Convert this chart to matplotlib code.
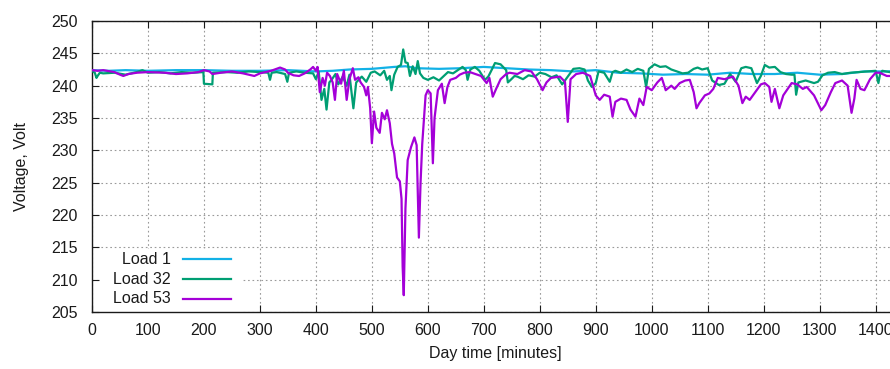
import numpy as np
import matplotlib
matplotlib.use("Agg")
import matplotlib.pyplot as plt
from matplotlib.patches import Rectangle

plt.rcParams['font.family'] = ['Liberation Sans', 'DejaVu Sans']

# voltage per load, (minute, volt)
load1 = [(0, 242.4), (30, 242.3), (60, 242.4), (100, 242.3), (150, 242.4), (200, 242.4),
         (250, 242.3), (300, 242.3), (350, 242.4), (400, 242.2), (430, 242.3), (460, 242.5),
         (500, 242.6), (540, 242.9), (560, 243.0), (580, 242.7), (620, 242.6), (660, 242.7),
         (700, 242.9), (740, 242.7), (780, 242.5), (820, 242.4), (860, 242.2), (900, 242.4),
         (940, 242.0), (980, 241.9), (1020, 241.7), (1060, 241.8), (1100, 241.7), (1140, 242.0),
         (1180, 241.8), (1220, 241.8), (1260, 242.0), (1300, 241.7), (1340, 241.8), (1380, 242.2),
         (1420, 242.2), (1440, 242.3)]

load32 = [(0, 242.3), (5, 242.0), (8, 241.2), (10, 241.5), (14, 242.0), (20, 241.9), (40, 242.0),
          (60, 241.7), (80, 242.1), (90, 242.4), (100, 242.0), (120, 242.1), (140, 241.9),
          (160, 242.1), (180, 242.0), (199, 242.1), (200, 240.3), (215, 240.2), (216, 242.0),
          (240, 242.1), (260, 242.0), (280, 242.2), (300, 242.1), (315, 242.0), (318, 240.9),
          (321, 242.0), (330, 242.1), (345, 241.8), (349, 240.6), (352, 242.0), (365, 242.2),
          (380, 242.0), (395, 241.9), (400, 241.0), (405, 242.2), (410, 237.8), (415, 239.5),
          (419, 236.3), (424, 240.5), (428, 240.9), (435, 241.8), (440, 240.2), (448, 241.4),
          (455, 240.0), (460, 241.7), (467, 236.5), (472, 240.5), (482, 241.4), (490, 240.6),
          (498, 242.0), (505, 242.2), (515, 241.6), (522, 242.3), (527, 240.9), (532, 241.5),
          (535, 239.3), (540, 241.7), (546, 242.9), (552, 243.2), (556, 245.6), (560, 243.6),
          (564, 243.5), (568, 241.5), (573, 243.0), (578, 241.8), (582, 243.8), (586, 241.9),
          (592, 241.2), (600, 240.9), (610, 241.3), (620, 240.8), (630, 241.6), (636, 242.1),
          (645, 241.9), (655, 242.5), (662, 242.9), (668, 242.4), (671, 240.9), (676, 242.5),
          (684, 242.9), (692, 242.3), (702, 240.9), (708, 241.4), (715, 242.6), (720, 243.5),
          (730, 243.3), (740, 242.4), (743, 240.5), (748, 240.9), (755, 241.5), (760, 241.4),
          (770, 241.0), (780, 241.6), (791, 241.4), (800, 242.0), (810, 241.8), (821, 241.3),
          (830, 241.6), (840, 240.2), (850, 241.4), (860, 242.6), (871, 242.7), (880, 242.5),
          (886, 240.8), (893, 239.8), (900, 240.4), (905, 242.2), (915, 242.0), (925, 240.6),
          (930, 242.1), (935, 242.3), (945, 242.0), (955, 242.5), (965, 242.1), (975, 242.6),
          (985, 242.3), (990, 239.8), (995, 242.6), (1005, 243.3), (1015, 242.9), (1025, 243.0),
          (1035, 242.5), (1045, 242.2), (1055, 241.9), (1065, 242.0), (1075, 242.6), (1082, 242.8),
          (1090, 242.5), (1100, 242.7), (1108, 240.8), (1120, 240.1), (1130, 240.3), (1140, 241.8),
          (1150, 240.6), (1160, 242.7), (1168, 242.9), (1178, 242.7), (1188, 240.4), (1195, 241.5),
          (1202, 243.2), (1210, 242.8), (1220, 242.9), (1230, 242.1), (1240, 241.8), (1250, 241.7),
          (1255, 241.7), (1258, 238.6), (1262, 240.5), (1275, 240.8), (1290, 240.4), (1297, 240.6),
          (1305, 241.6), (1315, 242.0), (1327, 242.1), (1340, 241.8), (1355, 242.0), (1370, 242.1),
          (1385, 242.2), (1400, 242.3), (1405, 240.4), (1408, 241.8), (1412, 242.3), (1425, 242.1),
          (1440, 242.0)]

load53 = [(0, 242.4), (10, 242.3), (20, 242.4), (40, 242.1), (50, 241.7), (56, 241.5), (65, 241.8),
          (80, 242.0), (100, 242.1), (130, 242.0), (150, 241.8), (170, 241.9), (190, 242.1),
          (200, 242.4), (210, 242.2), (215, 241.8), (230, 242.0), (250, 242.2), (270, 241.9),
          (290, 241.5), (300, 241.9), (320, 242.3), (336, 242.8), (345, 242.5), (350, 242.0),
          (360, 241.6), (370, 241.5), (380, 241.9), (390, 242.5), (395, 242.9), (400, 242.3),
          (403, 242.9), (407, 239.0), (412, 241.2), (416, 240.0), (420, 242.0), (425, 241.5),
          (430, 240.5), (434, 237.8), (438, 241.8), (445, 240.3), (450, 242.3), (455, 237.8),
          (460, 241.0), (466, 242.7), (470, 240.9), (476, 241.3), (480, 240.5), (486, 239.8),
          (490, 238.5), (493, 239.8), (497, 236.5), (500, 231.1), (504, 236.0), (508, 233.5),
          (514, 232.7), (518, 235.8), (523, 234.8), (527, 236.2), (532, 234.2), (536, 231.0),
          (540, 229.5), (545, 225.8), (550, 225.2), (553, 222.5), (555, 212.0), (557, 207.6),
          (560, 221.0), (564, 228.5), (570, 230.5), (576, 232.0), (580, 230.8), (584, 216.5),
          (587, 225.0), (590, 231.0), (596, 238.5), (600, 239.3), (605, 238.8), (609, 228.0),
          (612, 235.0), (618, 239.3), (625, 240.3), (630, 237.3), (635, 239.8), (640, 240.9),
          (650, 241.2), (657, 241.7), (665, 242.0), (675, 242.1), (685, 241.8), (695, 241.5),
          (705, 240.4), (710, 241.2), (716, 238.3), (722, 239.5), (730, 241.0), (740, 241.8),
          (746, 242.0), (760, 241.8), (773, 242.4), (785, 242.2), (795, 241.0), (805, 239.3),
          (812, 240.5), (820, 241.2), (836, 241.4), (845, 240.6), (850, 234.4), (855, 241.0),
          (865, 241.8), (877, 242.0), (890, 241.5), (900, 238.5), (907, 237.8), (915, 238.6),
          (925, 238.3), (930, 235.2), (935, 237.5), (945, 238.0), (955, 237.8), (962, 236.3),
          (971, 235.2), (978, 238.0), (985, 237.0), (991, 239.8), (1000, 239.3), (1010, 240.5),
          (1018, 241.2), (1025, 239.3), (1035, 240.0), (1041, 239.5), (1050, 240.4), (1060, 240.8),
          (1068, 240.9), (1075, 239.0), (1080, 236.5), (1085, 237.3), (1095, 238.5), (1103, 238.8),
          (1110, 239.5), (1118, 241.2), (1130, 241.0), (1145, 241.4), (1155, 240.0), (1162, 237.3),
          (1168, 238.3), (1175, 237.8), (1185, 239.0), (1195, 240.2), (1202, 240.4), (1210, 239.8),
          (1214, 237.5), (1220, 239.5), (1228, 236.5), (1235, 238.5), (1250, 240.4), (1260, 240.2),
          (1270, 239.5), (1277, 239.8), (1290, 238.5), (1303, 236.2), (1310, 237.0), (1320, 239.0),
          (1328, 240.4), (1340, 240.8), (1350, 240.0), (1357, 235.8), (1362, 238.0), (1366, 240.9),
          (1373, 239.5), (1380, 239.3), (1390, 241.0), (1400, 242.0), (1407, 242.0), (1420, 241.5),
          (1440, 241.5)]

labels = ["Load 1", "Load 32", "Load 53"]
colors = ["#12b1e6", "#009e73", "#a400d8"]

xticks = np.arange(0, 1401, 100)
yticks = np.arange(205, 251, 5)

fig = plt.figure(figsize=(8.9, 3.69), dpi=100)
ax = fig.add_axes([92/890, 57/369, 806/890, 291/369])

for data, c in zip([load1, load32, load53], colors):
    d = np.array(data)
    ax.plot(d[:, 0], d[:, 1], color=c, lw=1.6, zorder=3)

ax.set_xlim(0, 1440)
ax.set_ylim(205, 250)
ax.set_xticks(xticks)
ax.set_yticks(yticks)
ax.grid(True, color="#9a9a9a", lw=0.8, ls=(0, (1.5, 2.5)))
ax.tick_params(direction="in", length=5, width=0.8, top=True, right=True,
               labelsize=11.5, colors="#1a1a1a", pad=8)
ax.tick_params(axis="y", pad=10)
for s in ax.spines.values():
    s.set_linewidth(1.0)
    s.set_color("#1a1a1a")

ax.set_xlabel("Day time [minutes]", fontsize=11.5, color="#1a1a1a", labelpad=6)
ax.set_ylabel("Voltage, Volt", fontsize=11.5, color="#1a1a1a", labelpad=16)

# gnuplot-like key: opaque box, text right aligned, sample line after it
ax.add_patch(Rectangle((0.01, 0.0), 0.175, 0.215, transform=ax.transAxes,
                       facecolor="white", edgecolor="none", zorder=2))
rows = [0.182, 0.113, 0.045]
for lab, c, y in zip(labels, colors, rows):
    ax.text(0.098, y, lab, transform=ax.transAxes, ha="right", va="center",
            fontsize=11.5, color="#1a1a1a", zorder=4)
    ax.plot([0.113, 0.172], [y, y], transform=ax.transAxes, color=c, lw=1.6, zorder=4)

fig.savefig("out.png", dpi=100)
